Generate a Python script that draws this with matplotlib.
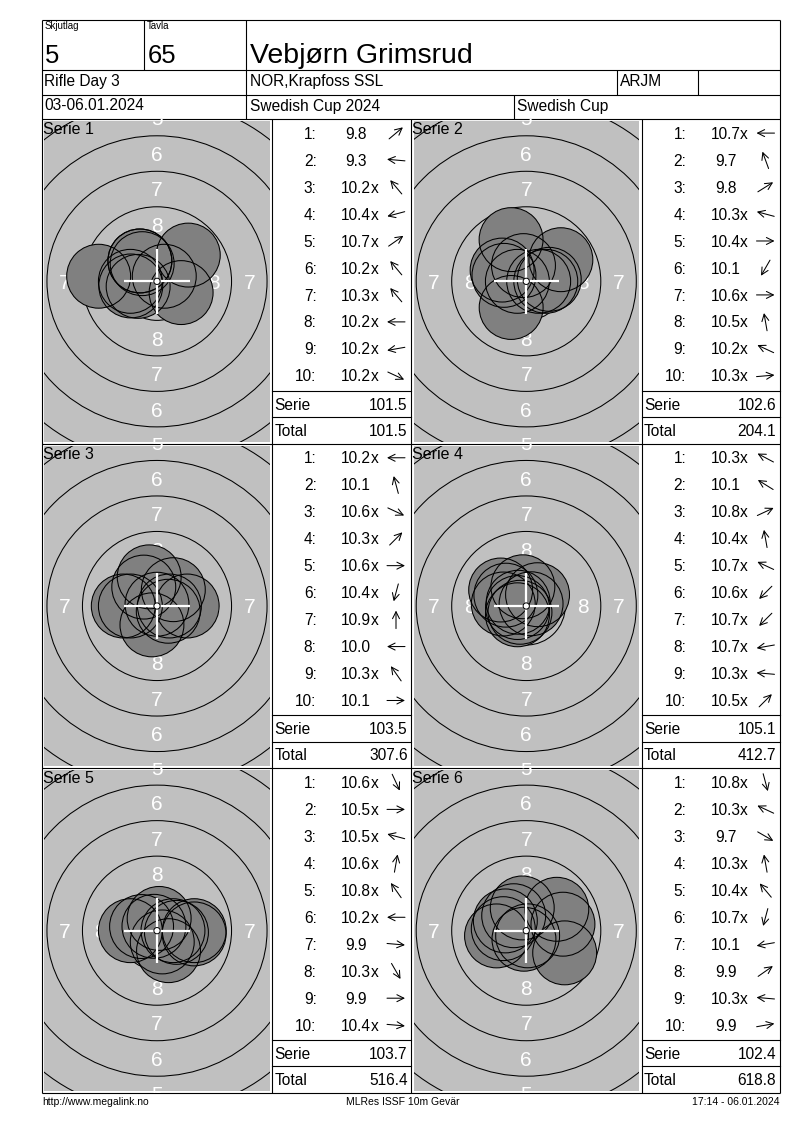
import numpy as np
import matplotlib.pyplot as plt
from matplotlib.patches import Circle, Rectangle

plt.rcParams['font.family'] = ['Liberation Sans', 'DejaVu Sans']

# header / footer texts
relay_label, relay = "Skjutlag", "5"
lane_label, lane = "Tavla", "65"
shooter = "Vebjørn Grimsrud"
event_name = "Rifle Day 3"
club = "NOR,Krapfoss SSL"
class_code = "ARJM"
dates = "03-06.01.2024"
competition = "Swedish Cup 2024"
cup = "Swedish Cup"
footer_left = "http://www.megalink.no"
footer_mid = "MLRes ISSF 10m Gevär"
footer_right = "17:14 - 06.01.2024"

# shots: score as printed and direction of the shot (degrees, 0 = right, ccw)
series_names = ["Serie 1", "Serie 2", "Serie 3", "Serie 4", "Serie 5", "Serie 6"]
serie1_scores = ["9.8", "9.3", "10.2x", "10.4x", "10.7x", "10.2x", "10.3x", "10.2x", "10.2x", "10.2x"]
serie1_angles = [40, 175, 130, 195, 35, 130, 130, 180, 190, 335]
serie2_scores = ["10.7x", "9.7", "9.8", "10.3x", "10.4x", "10.1", "10.6x", "10.5x", "10.2x", "10.3x"]
serie2_angles = [180, 110, 32, 165, 0, 240, 0, 100, 155, 5]
serie3_scores = ["10.2x", "10.1", "10.6x", "10.3x", "10.6x", "10.4x", "10.9x", "10.0", "10.3x", "10.1"]
serie3_angles = [180, 105, 335, 45, 0, 255, 90, 180, 125, 0]
serie4_scores = ["10.3x", "10.1", "10.8x", "10.4x", "10.7x", "10.6x", "10.7x", "10.7x", "10.3x", "10.5x"]
serie4_angles = [152, 148, 25, 100, 155, 225, 225, 190, 175, 45]
serie5_scores = ["10.6x", "10.5x", "10.5x", "10.6x", "10.8x", "10.2x", "9.9", "10.3x", "9.9", "10.4x"]
serie5_angles = [295, 0, 165, 80, 125, 180, 355, 300, 0, 355]
serie6_scores = ["10.8x", "10.3x", "9.7", "10.3x", "10.4x", "10.7x", "10.1", "9.9", "10.3x", "9.9"]
serie6_angles = [285, 155, 330, 100, 130, 255, 190, 35, 175, 10]

all_scores = [serie1_scores, serie2_scores, serie3_scores, serie4_scores, serie5_scores, serie6_scores]
all_angles = [serie1_angles, serie2_angles, serie3_angles, serie4_angles, serie5_angles, serie6_angles]

W, H = 800, 1130
S = 14.2          # px per mm on the target
SHOT_R = 2.25     # 4.5 mm pellet
TARGET_GREY = '#c0c0c0'
SHOT_GREY = '#808080'

fig = plt.figure(figsize=(W / 100, H / 100), dpi=100)

# base layer for lines (pixel coords, y down)
base = fig.add_axes([0, 0, 1, 1])
base.set_xlim(0, W)
base.set_ylim(H, 0)
base.axis('off')

LW = 0.8


def hline(y, x0, x1):
    base.plot([x0, x1], [y, y], color='black', lw=LW, solid_capstyle='butt')


def vline(x, y0, y1):
    base.plot([x, x], [y0, y1], color='black', lw=LW, solid_capstyle='butt')


L, R, T, B = 42, 779.5, 20, 1093
hline(T, L, R)
hline(B, L, R)
vline(L, T, B)
vline(R, T, B)
hline(70, L, R)
hline(94.5, L, R)
hline(119, L, R)
vline(144, T, 70)
vline(246, T, 119)
vline(617, 70, 94.5)
vline(698, 70, 94.5)
vline(514, 94.5, 119)

row_y = np.linspace(119, B, 4)
cols = [(L, 272, 411), (411, 641.5, R)]   # target left, table left, table right
for y in row_y[1:-1]:
    hline(y, L, R)
for c in cols:
    vline(c[1], 119, B)
vline(411, 119, B)

# rings: outer radius of ring n in mm
ring_radius = {n: 0.25 + (10 - n) * 2.5 for n in range(1, 11)}

panels = []
for i in range(6):
    r, c = divmod(i, 2)
    panels.append((row_y[r], row_y[r + 1], cols[c]))

# targets
for i, (y0, y1, (tx0, tx1, tx2)) in enumerate(panels):
    ax = fig.add_axes([tx0 / W, 1 - y1 / H, (tx1 - tx0) / W, (y1 - y0) / H])
    hw = (tx1 - tx0) / 2 / S
    hh = (y1 - y0) / 2 / S
    ax.set_xlim(-hw, hw)
    ax.set_ylim(-hh, hh)
    ax.axis('off')

    grey = Rectangle((-hw + 2.5 / S, -hh + 2 / S), 2 * hw - 5 / S, 2 * hh - 4 / S,
                     fc=TARGET_GREY, ec='none', zorder=1)
    ax.add_patch(grey)

    for n in range(1, 10):
        ring = Circle((0, 0), ring_radius[n], fill=False, ec='black', lw=0.75, zorder=2)
        ax.add_patch(ring)
        ring.set_clip_path(grey)

    dh = 15 * 100 / 72 * 0.716 / S / 2
    for n in range(1, 9):
        rr = ring_radius[n] - 1.25
        for (px, py) in [(0, rr), (0, -rr), (-rr, 0), (rr, 0)]:
            # skip labels that fall completely outside the panel
            if abs(px) > hw or abs(py) - dh > hh:
                continue
            ax.text(px, py - dh, str(n), color='white', fontsize=15,
                    ha='center', va='baseline', zorder=3, clip_on=True)

    vals = np.array([float(s.rstrip('x')) for s in all_scores[i]])
    ang = np.radians(all_angles[i])
    dist = np.clip(10.95 - vals, 0, None) * 2.5
    xs, ys = dist * np.cos(ang), dist * np.sin(ang)
    for x, y in zip(xs, ys):
        p = Circle((x, y), SHOT_R, fc=SHOT_GREY, ec='none', zorder=4)
        ax.add_patch(p)
        p.set_clip_path(grey)
    for x, y in zip(xs, ys):
        p = Circle((x, y), SHOT_R, fill=False, ec='black', lw=0.75, zorder=5)
        ax.add_patch(p)
        p.set_clip_path(grey)

    arm = 2.3
    ax.plot([-arm, arm], [0, 0], color='white', lw=1.6, zorder=6, solid_capstyle='butt')
    ax.plot([0, 0], [-arm, arm], color='white', lw=1.6, zorder=6, solid_capstyle='butt')
    ax.add_patch(Circle((0, 0), 0.22, fc='white', ec='black', lw=0.7, zorder=7))

# overlay for texts and arrows
top = fig.add_axes([0, 0, 1, 1])
top.set_xlim(0, W)
top.set_ylim(H, 0)
top.axis('off')

top.text(44.5, 29, relay_label, fontsize=7, va='baseline')
top.text(147, 29, lane_label, fontsize=7, va='baseline')
top.text(44.5, 63, relay, fontsize=18.5, va='baseline')
top.text(148, 63, lane, fontsize=18.5, va='baseline')
top.text(249.5, 63, shooter, fontsize=20.5, va='baseline')
top.text(44.5, 86, event_name, fontsize=11.2, va='baseline')
top.text(249.5, 86, club, fontsize=11.2, va='baseline')
top.text(620, 86, class_code, fontsize=11.2, va='baseline')
top.text(44.5, 110.5, dates, fontsize=11.2, va='baseline')
top.text(249.5, 110.5, competition, fontsize=11.2, va='baseline')
top.text(517, 110.5, cup, fontsize=11.2, va='baseline')

top.text(L, 1105, footer_left, fontsize=7.5, va='baseline')
top.text(403, 1105, footer_mid, fontsize=7.5, va='baseline', ha='center')
top.text(R, 1105, footer_right, fontsize=7.5, va='baseline', ha='right')

FS = 11.2
ARROW_LEN = 18
total = 0.0
for i, (y0, y1, (tx0, tx1, tx2)) in enumerate(panels):
    top.text(tx0 + 1, y0 + 15, series_names[i], fontsize=11.5, va='baseline')
    for k, (s, a) in enumerate(zip(all_scores[i], all_angles[i])):
        yb = y0 + 19.7 + k * 26.97
        top.text(tx1 + 44.7, yb, f"{k + 1}:", fontsize=FS, ha='right', va='baseline')
        top.text(tx1 + 84, yb, s.rstrip('x'), fontsize=FS, ha='center', va='baseline')
        if s.endswith('x'):
            top.text(tx1 + 98.7, yb, 'x', fontsize=FS, ha='left', va='baseline')
        cx, cy = tx1 + 124, yb - 5.6
        dx = np.cos(np.radians(a)) * ARROW_LEN / 2
        dy = -np.sin(np.radians(a)) * ARROW_LEN / 2
        top.annotate('', xy=(cx + dx, cy + dy), xytext=(cx - dx, cy - dy),
                     arrowprops=dict(arrowstyle='->,head_length=0.5,head_width=0.25',
                                     lw=0.75, color='black', shrinkA=0, shrinkB=0,
                                     mutation_scale=10))
    serie_sum = sum(float(s.rstrip('x')) for s in all_scores[i])
    total += serie_sum
    base.plot([tx1, tx2], [y0 + 271.7] * 2, color='black', lw=LW)
    base.plot([tx1, tx2], [y0 + 298] * 2, color='black', lw=LW)
    top.text(tx1 + 2.5, y0 + 290.7, "Serie", fontsize=FS, va='baseline')
    top.text(tx2 - 3.3, y0 + 290.7, f"{serie_sum:.1f}", fontsize=FS, ha='right', va='baseline')
    top.text(tx1 + 2.5, y0 + 316.7, "Total", fontsize=FS, va='baseline')
    top.text(tx2 - 3.3, y0 + 316.7, f"{total:.1f}", fontsize=FS, ha='right', va='baseline')

fig.savefig("out.png", dpi=100, facecolor='white')
